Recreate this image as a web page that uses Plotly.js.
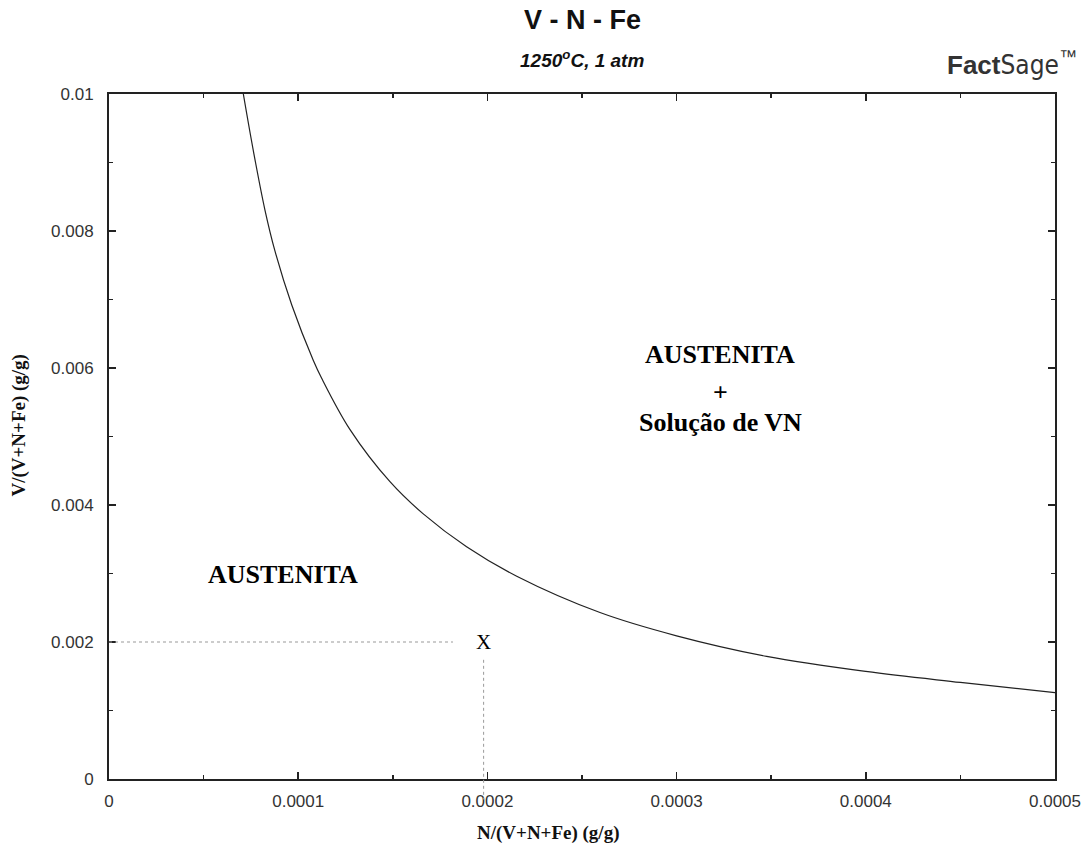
<!DOCTYPE html>
<html>
<head>
<meta charset="utf-8">
<script src="https://cdn.plot.ly/plotly-3.0.1.min.js"></script>
<style>html,body{margin:0;padding:0;background:#fff;}#chart{width:1086px;height:850px;}</style>
</head>
<body>
<div id="chart"></div>
<script>
// Phase boundary (N mass fraction vs V mass fraction)
const boundaryN = [7.10e-5, 7.63e-5, 8.24e-5, 8.77e-5, 9.66e-5, 1.08e-4, 1.124e-4, 1.274e-4, 1.485e-4, 1.661e-4, 1.890e-4, 2.155e-4, 2.595e-4, 3.0e-4, 3.476e-4, 4.0e-4, 4.5e-4, 5.0e-4];
const boundaryV = [0.0100, 0.00917, 0.00831, 0.00771, 0.00692, 0.00611, 0.00585, 0.00510, 0.00434, 0.00387, 0.00339, 0.00296, 0.00243, 0.00209, 0.00179, 0.00157, 0.00141, 0.00126];

const xTickVals = [0, 0.0001, 0.0002, 0.0003, 0.0004, 0.0005];
const xTickText = ["0", "0.0001", "0.0002", "0.0003", "0.0004", "0.0005"];
const yTickVals = [0, 0.002, 0.004, 0.006, 0.008, 0.01];
const yTickText = ["0", "0.002", "0.004", "0.006", "0.008", "0.01"];

// Point X (composition marker)
const pointN = 0.000198;
const pointV = 0.002;
const guideEndN = 0.0001818;
const guideTopV = 0.00174;

const serif = "Liberation Serif, Times New Roman, serif";
const sans = "Liberation Sans, Arial, sans-serif";

const traces = [{
  x: boundaryN, y: boundaryV, type: "scatter", mode: "lines",
  line: {color: "#222", width: 1.2, shape: "spline", smoothing: 1},
  hoverinfo: "skip", showlegend: false
}];

const axisCommon = {
  showgrid: false, zeroline: false, showline: true, mirror: "ticks",
  linecolor: "#222", linewidth: 2, ticks: "inside", ticklen: 7, tickwidth: 1.5, tickcolor: "#222",
  tickfont: {family: sans, size: 17, color: "#333"}, tickmode: "array"
};

const layout = {
  width: 1086, height: 850,
  margin: {l: 109, r: 31, t: 94, b: 71},
  paper_bgcolor: "#fff", plot_bgcolor: "#fff",
  showlegend: false,
  xaxis: Object.assign({}, axisCommon, {
    range: [0, 0.0005], tickvals: xTickVals, ticktext: xTickText,
    minor: {dtick: 0.00005, ticks: "inside", ticklen: 4, tickwidth: 1.5, tickcolor: "#222", showgrid: false},
    ticklabelstandoff: 6
  }),
  yaxis: Object.assign({}, axisCommon, {
    range: [0, 0.01], tickvals: yTickVals, ticktext: yTickText,
    minor: {dtick: 0.001, ticks: "inside", ticklen: 4, tickwidth: 1.5, tickcolor: "#222", showgrid: false},
    ticklabelstandoff: 10
  }),
  shapes: [
    {type: "line", xref: "x", yref: "y", x0: 0, x1: guideEndN, y0: pointV, y1: pointV,
     line: {color: "#999", width: 1, dash: "dot"}},
    {type: "line", xref: "x", yref: "paper", x0: pointN, x1: pointN, y0: (guideTopV / 0.01), y1: -0.03,
     line: {color: "#999", width: 1, dash: "dot"}}
  ],
  annotations: [
    {text: "<b>V - N - Fe</b>", xref: "paper", yref: "paper", x: 0.5, y: 1, yshift: 91, showarrow: false,
     font: {family: sans, size: 27, color: "#111"}},
    {text: "<b><i>1250<sup>o</sup>C, 1 atm</i></b>", xref: "paper", yref: "paper", x: 0.5, y: 1, yshift: 49, showarrow: false,
     font: {family: sans, size: 19, color: "#111"}},
    {text: "<b>Fact</b><span style=\"font-family:'Liberation Sans Narrow','DejaVu Sans Condensed',sans-serif\">Sage</span><sup>™</sup>", xref: "paper", yref: "paper", x: 1, xanchor: "right", xshift: 24, y: 1, yshift: 49, showarrow: false,
     font: {family: sans, size: 26, color: "#333"}},
    {text: "<b>N/(V+N+Fe) (g/g)</b>", xref: "paper", yref: "paper", x: 0.4645, y: 0, yshift: -67, showarrow: false,
     font: {family: serif, size: 19, color: "#111"}},
    {text: "<b>V/(V+N+Fe) (g/g)</b>", xref: "paper", yref: "paper", x: 0, xshift: -103, y: 0.516, textangle: -90, showarrow: false,
     font: {family: serif, size: 19, color: "#111"}},
    {text: "<b>AUSTENITA</b>", x: 0.000092, y: 0.00298, showarrow: false,
     font: {family: serif, size: 26, color: "#000"}},
    {text: "<b>AUSTENITA</b>", x: 0.000323, y: 0.0062, showarrow: false,
     font: {family: serif, size: 26, color: "#000"}},
    {text: "<b>+</b>", x: 0.000323, y: 0.00564, showarrow: false,
     font: {family: serif, size: 26, color: "#000"}},
    {text: "<b>Solução de VN</b>", x: 0.000323, y: 0.0052, showarrow: false,
     font: {family: serif, size: 26, color: "#000"}},
    {text: "X", x: pointN, y: pointV, showarrow: false,
     font: {family: serif, size: 21, color: "#000"}}
  ]
};

Plotly.newPlot("chart", traces, layout, {displayModeBar: false, staticPlot: true});
</script>
</body>
</html>
